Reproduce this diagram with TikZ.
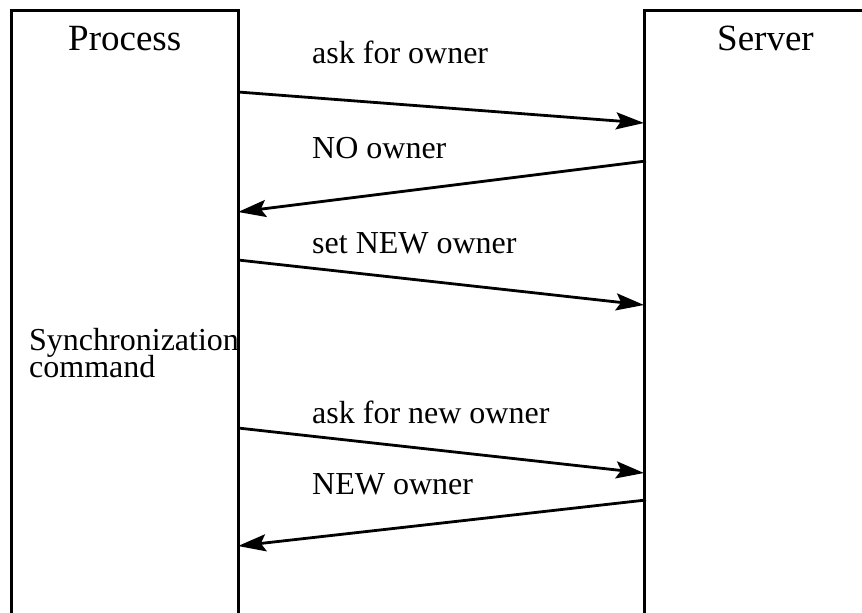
\documentclass[tikz,border=0pt]{standalone}
\usepackage{fontspec}
\setmainfont{Liberation Serif}
\usetikzlibrary{arrows.meta}
\begin{document}
\begin{tikzpicture}[x=1pt,y=-1pt,
  lifeline/.style={line width=3pt,line join=miter},
  msg/.style={line width=2.8pt,-{Stealth[length=28pt,width=17pt,inset=5pt]}},
  title/.style={font=\fontsize{37}{40}\selectfont,anchor=base west,inner sep=0pt},
  lbl/.style={font=\fontsize{32}{26}\selectfont,anchor=base west,inner sep=0pt}]
\useasboundingbox (0,0) rectangle (862,613);
\draw[lifeline] (11.5,613) -- (11.5,10) -- (238,10) -- (238,613);
\draw[lifeline] (644,613) -- (644,10) -- (870,10);
\node[title] (proc) at (68,50) {Process};
\node[title] (serv) at (717,50) {Server};
\node[lbl,align=left] (sync) at (29,377) {Synchronization\\[-4pt]command};
\node[lbl] (l1) at (312,63) {ask for owner};
\node[lbl] (l2) at (312,158) {NO owner};
\node[lbl] (l3) at (312,253) {set NEW owner};
\node[lbl] (l4) at (312,423) {ask for new owner};
\node[lbl] (l5) at (312,494) {NEW owner};
\coordinate (p1) at (238,92);  \coordinate (s1) at (644,123);
\coordinate (s2) at (646,161); \coordinate (p2) at (238,212);
\coordinate (p3) at (238,260); \coordinate (s3) at (644,305);
\coordinate (p4) at (238,428); \coordinate (s4) at (644,473);
\coordinate (s5) at (646,500); \coordinate (p5) at (238,546);
\draw[msg] (p1) -- (s1);
\draw[msg] (s2) -- (p2);
\draw[msg] (p3) -- (s3);
\draw[msg] (p4) -- (s4);
\draw[msg] (s5) -- (p5);
\end{tikzpicture}
\end{document}
